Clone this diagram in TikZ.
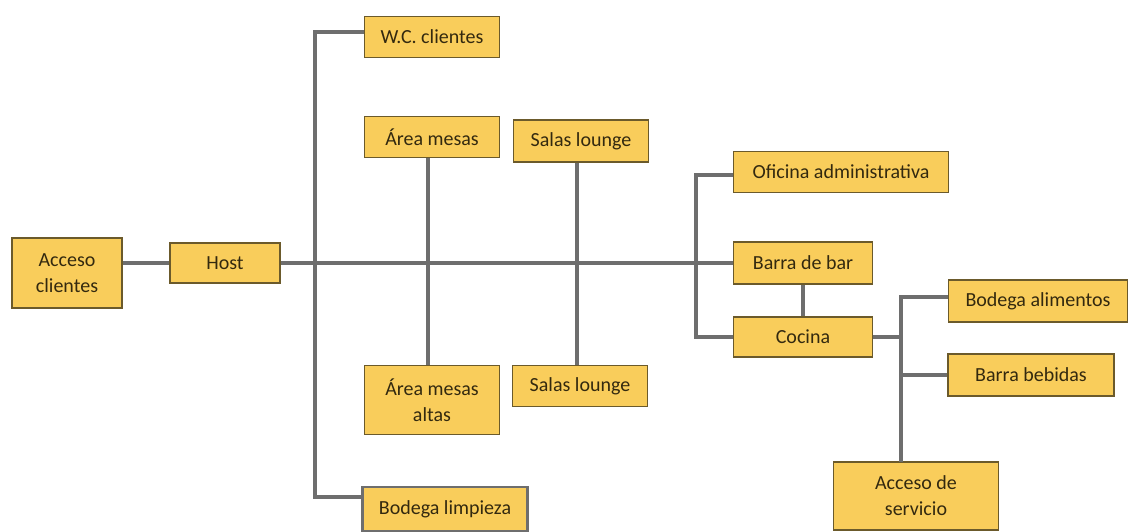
\documentclass[tikz,border=0pt]{standalone}
\usepackage{fontspec}
\setmainfont{Carlito}
\usepackage{xcolor}
\usepackage{tikz}
\usetikzlibrary{positioning,calc}
\definecolor{boxfill}{HTML}{F9CD5B}
\definecolor{boxedge}{HTML}{6B5A2B}
\definecolor{linkgray}{HTML}{6E6E6E}
\definecolor{textdark}{HTML}{33290F}

\begin{document}
\begin{tikzpicture}[x=1pt,y=-1pt,
  font=\fontsize{20}{26}\selectfont,
  area/.style={draw=boxedge,line width=1.6pt,fill=boxfill,text=textdark,align=center,inner sep=0pt,minimum width=135pt,minimum height=41pt},
  link/.style={draw=linkgray,line width=3.2pt}]
\useasboundingbox (0,0) rectangle (1129,532);
\node[area,minimum width=110pt,minimum height=70pt] (acceso) at (67,273) {Acceso\\clientes};
\node[area,minimum width=110pt,minimum height=40pt] (host) at (225,263) {Host};
\node[area] (wc) at (432,37) {W.C. clientes};
\node[area] (mesas) at (432,137) {Área mesas};
\node[area,minimum height=42pt] (loungeA) at (581,141) {Salas lounge};
\node[area,minimum height=69pt] (altas) at (432,400) {Área mesas\\altas};
\node[area] (loungeB) at (580,386) {Salas lounge};
\node[area,draw=linkgray,line width=2.6pt,minimum width=165pt,minimum height=44pt] (limpieza) at (445,509) {Bodega limpieza};
\node[area,minimum width=215pt] (oficina) at (841,172) {Oficina administrativa};
\node[area,minimum width=139pt,minimum height=42pt] (barra) at (803,263) {Barra de bar};
\node[area,minimum width=139pt,minimum height=40pt] (cocina) at (803,337) {Cocina};
\node[area,minimum width=179pt,minimum height=42pt] (alimentos) at (1038,301) {Bodega alimentos};
\node[area,minimum width=166pt,minimum height=42pt] (bebidas) at (1031,375) {Barra bebidas};
\node[area,minimum width=165pt,minimum height=68pt] (servicio) at (916,496) {Acceso de\\servicio};

\coordinate (lt) at (315,32);
\coordinate (lb) at (315,497);
\coordinate (rt) at (696,175);
\coordinate (rb) at (696,337);
\coordinate (kt) at (901,297);
\coordinate (kb) at (901,462);
\coordinate (mx) at (428,0);
\coordinate (sx) at (577,0);

\draw[link] (acceso.east |- host.west) -- (host.west);
\draw[link] (host.east) -- (barra.west);
\draw[link] (wc.west |- lt) -- (lt) -- (lb) -- (limpieza.west |- lb);
\draw[link] (mesas.south -| mx) -- (altas.north -| mx);
\draw[link] (loungeA.south -| sx) -- (loungeB.north -| sx);
\draw[link] (oficina.west |- rt) -- (rt) -- (rb) -- (cocina.west |- rb);
\draw[link] (barra.south) -- (cocina.north);
\draw[link] (cocina.east) -- (cocina.east -| kt);
\draw[link] (alimentos.west |- kt) -- (kt) -- (kb);
\draw[link] (bebidas.west) -- (bebidas.west -| kt);
\end{tikzpicture}
\end{document}
